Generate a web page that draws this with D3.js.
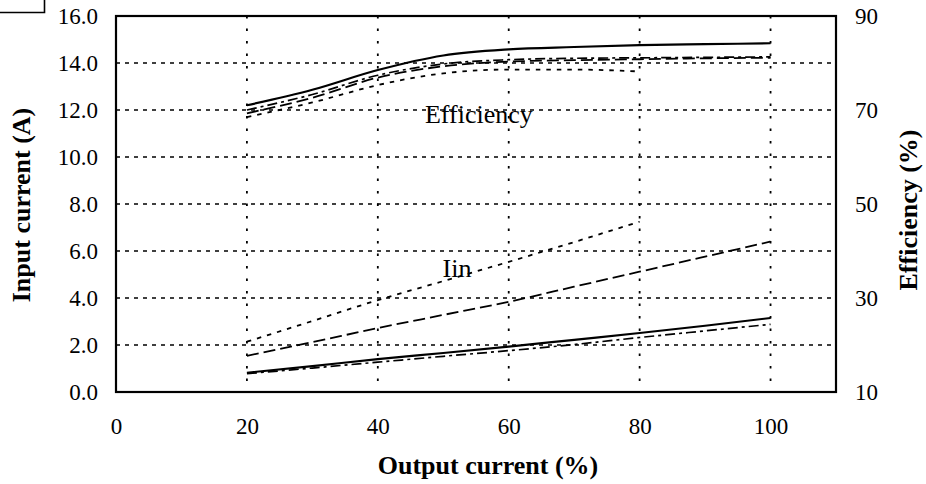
<!DOCTYPE html>
<html>
<head>
<meta charset="utf-8">
<script src="https://cdn.jsdelivr.net/npm/d3@7"></script>
<style>
  html, body { margin: 0; padding: 0; background: #fff; }
  svg { display: block; font-family: "Liberation Serif", "Times New Roman", serif; }
</style>
</head>
<body>
<svg id="chart" width="926" height="484"></svg>
<script>
// Output current load points (%)
const loadPts = [20, 30, 40, 50, 60, 70, 80, 90, 100];
const loadPtsShort = [20, 30, 40, 50, 60, 70, 80];

// Efficiency (%) per input condition
const effSolid   = [71.0, 74.3, 78.5, 81.6, 82.9, 83.4, 83.8, 84.0, 84.2];
const effDashDot = [70.0, 73.3, 77.4, 79.8, 80.7, 81.0, 81.1, 81.2, 81.3];
const effDashed  = [69.3, 72.6, 76.9, 79.3, 80.3, 80.6, 80.8, 81.0, 81.1];
const effDotted  = [68.5, 71.6, 75.3, 77.8, 78.6, 78.6, 78.2];

// Input current (A) per input condition
const iinSolid   = [0.82, 1.10, 1.40, 1.66, 1.93, 2.22, 2.51, 2.82, 3.15];
const iinDashDot = [0.78, 1.02, 1.27, 1.52, 1.76, 2.02, 2.32, 2.60, 2.88];
const iinDashed  = [1.54, 2.12, 2.72, 3.28, 3.84, 4.48, 5.12, 5.76, 6.40];
const iinDotted  = [2.14, 3.02, 3.91, 4.72, 5.54, 6.38, 7.25];

// Tick values
const xTicks = [0, 20, 40, 60, 80, 100];
const yLeftTicks = [0, 2, 4, 6, 8, 10, 12, 14, 16];
const yRightTicks = [10, 30, 50, 70, 90];
const xGrid = [20, 40, 60, 80, 100];
const yGrid = [2, 4, 6, 8, 10, 12, 14];

const svg = d3.select("#chart");
const L = 116, T = 16, R = 836, B = 392;

const x = d3.scaleLinear().domain([0, 110]).range([L, R]);
const yL = d3.scaleLinear().domain([0, 16]).range([B, T]);
const yR = d3.scaleLinear().domain([10, 90]).range([B, T]);

// Corner fragment of a frame at the top-left
svg.append("path")
  .attr("d", "M0,12.5 H44.5 V0")
  .attr("fill", "none").attr("stroke", "#000").attr("stroke-width", 1.6);

// Grid lines
svg.append("g").selectAll("line").data(yGrid).join("line")
  .attr("x1", L).attr("x2", R)
  .attr("y1", d => yL(d)).attr("y2", d => yL(d))
  .attr("stroke", "#000").attr("stroke-width", 1.6)
  .attr("stroke-dasharray", "4,5");
svg.append("g").selectAll("line").data(xGrid).join("line")
  .attr("x1", d => x(d)).attr("x2", d => x(d))
  .attr("y1", T).attr("y2", B)
  .attr("stroke", "#000").attr("stroke-width", 1.8)
  .attr("stroke-dasharray", "2.5,10");

// Frame
svg.append("rect")
  .attr("x", L).attr("y", T).attr("width", R - L).attr("height", B - T)
  .attr("fill", "none").attr("stroke", "#000").attr("stroke-width", 2.2);

// Axes
const fmt = d3.format(".1f");
const gL = svg.append("g").attr("transform", `translate(${L},0)`)
  .call(d3.axisLeft(yL).tickValues(yLeftTicks).tickFormat(fmt).tickSize(0).tickPadding(18));
const gR = svg.append("g").attr("transform", `translate(${R},0)`)
  .call(d3.axisRight(yR).tickValues(yRightTicks).tickFormat(d3.format("d")).tickSize(0).tickPadding(19));
const gB = svg.append("g").attr("transform", `translate(0,${B})`)
  .call(d3.axisBottom(x).tickValues(xTicks).tickFormat(d3.format("d")).tickSize(0).tickPadding(26));
[gL, gR, gB].forEach(g => {
  g.attr("font-family", "'Liberation Serif', serif");
  g.select(".domain").remove();
  g.selectAll("text").attr("font-size", 23).attr("fill", "#000");
});

// Series
const lineL = d3.line().x(d => x(d[0])).y(d => yL(d[1])).curve(d3.curveMonotoneX);
const lineR = d3.line().x(d => x(d[0])).y(d => yR(d[1])).curve(d3.curveMonotoneX);
const styles = {
  solid:   { dash: null,          w: 2.2 },
  dashdot: { dash: "10,4,3,4",    w: 1.7 },
  dashed:  { dash: "12,5",        w: 1.8 },
  dotted:  { dash: "4.5,6",       w: 1.8 }
};
const series = [
  { xs: loadPts,      ys: effSolid,   s: "solid",   sc: lineR },
  { xs: loadPts,      ys: effDashDot, s: "dashdot", sc: lineR },
  { xs: loadPts,      ys: effDashed,  s: "dashed",  sc: lineR },
  { xs: loadPtsShort, ys: effDotted,  s: "dotted",  sc: lineR },
  { xs: loadPts,      ys: iinSolid,   s: "solid",   sc: lineL },
  { xs: loadPts,      ys: iinDashDot, s: "dashdot", sc: lineL },
  { xs: loadPts,      ys: iinDashed,  s: "dashed",  sc: lineL },
  { xs: loadPtsShort, ys: iinDotted,  s: "dotted",  sc: lineL }
];
series.forEach(se => {
  svg.append("path")
    .datum(se.xs.map((v, i) => [v, se.ys[i]]))
    .attr("d", se.sc)
    .attr("fill", "none").attr("stroke", "#000")
    .attr("stroke-width", styles[se.s].w)
    .attr("stroke-dasharray", styles[se.s].dash);
});

// In-plot labels
svg.append("text").attr("x", x(47.2)).attr("y", yR(67.3))
  .attr("font-size", 26).text("Efficiency");
svg.append("text").attr("x", x(49.9)).attr("y", yL(4.9))
  .attr("font-size", 26).text("Iin");

// Axis titles
svg.append("text").attr("x", 488).attr("y", 474)
  .attr("text-anchor", "middle").attr("font-size", 26).attr("font-weight", "bold")
  .text("Output current (%)");
svg.append("text").attr("transform", "translate(30,205) rotate(-90)")
  .attr("text-anchor", "middle").attr("font-size", 26).attr("font-weight", "bold")
  .text("Input current (A)");
svg.append("text").attr("transform", "translate(917,210) rotate(-90)")
  .attr("text-anchor", "middle").attr("font-size", 26).attr("font-weight", "bold")
  .text("Efficiency (%)");
</script>
</body>
</html>
